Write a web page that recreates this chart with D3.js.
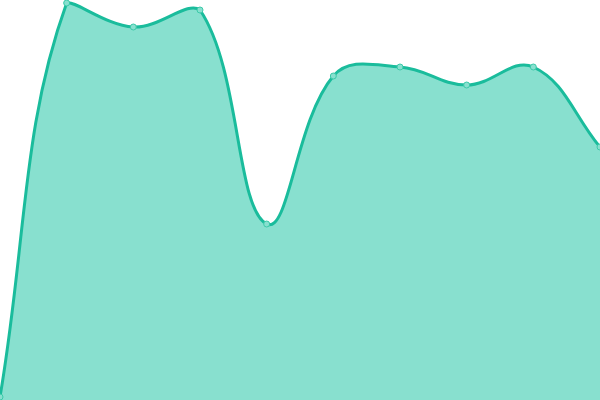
<!DOCTYPE html>
<html><head><meta charset="utf-8">
<script src="https://cdn.jsdelivr.net/npm/d3@7"></script>
<style>html,body{margin:0;padding:0;background:#fff;overflow:hidden}</style>
</head><body>
<svg id="c" width="600" height="400"></svg>
<script>
const categories = [0,1,2,3,4,5,6,7,8,9];
const values = [3, 397, 373, 390, 176, 324, 333, 315, 333, 253];

const W = 600, H = 400;
const x = d3.scaleLinear().domain([0, categories.length - 1]).range([0, W]);
const y = d3.scaleLinear().domain([0, 400]).range([H, 0]);
const data = categories.map((c, i) => ({c, v: values[i]}));
const pts = data.map(d => ({x: x(d.c), y: y(d.v)}));

// Spline with tension 0.4 and control points capped to the chart area
const t = 0.4;
const clampX = v => Math.max(0, Math.min(W, v));
const clampY = v => Math.max(0, Math.min(H, v));
const cps = pts.map((p, i) => {
  const a = pts[i - 1] || p, b = pts[i + 1] || p;
  const d01 = Math.hypot(p.x - a.x, p.y - a.y);
  const d12 = Math.hypot(b.x - p.x, b.y - p.y);
  let s01 = d01 / (d01 + d12), s12 = d12 / (d01 + d12);
  if (isNaN(s01)) s01 = 0; if (isNaN(s12)) s12 = 0;
  const fa = t * s01, fb = t * s12;
  return {
    px: clampX(p.x - fa * (b.x - a.x)), py: clampY(p.y - fa * (b.y - a.y)),
    nx: clampX(p.x + fb * (b.x - a.x)), ny: clampY(p.y + fb * (b.y - a.y))
  };
});
function trace(ctx) {
  ctx.moveTo(pts[0].x, pts[0].y);
  for (let i = 1; i < pts.length; i++) {
    ctx.bezierCurveTo(cps[i-1].nx, cps[i-1].ny, cps[i].px, cps[i].py, pts[i].x, pts[i].y);
  }
  return ctx;
}
const svg = d3.select("#c");
const ap = trace(d3.path());
ap.lineTo(pts[pts.length-1].x, H); ap.lineTo(pts[0].x, H); ap.closePath();
svg.append("path").attr("d", ap.toString()).attr("fill", "#88e0cf");
svg.append("path").attr("d", trace(d3.path()).toString())
  .attr("fill", "none").attr("stroke", "#1abc9c").attr("stroke-width", 3);
svg.selectAll("circle").data(pts).join("circle")
  .attr("cx", d => d.x).attr("cy", d => d.y).attr("r", 3)
  .attr("fill", "#88e0cf").attr("stroke", "#3ccaa9").attr("stroke-width", 1);
</script>
</body></html>
